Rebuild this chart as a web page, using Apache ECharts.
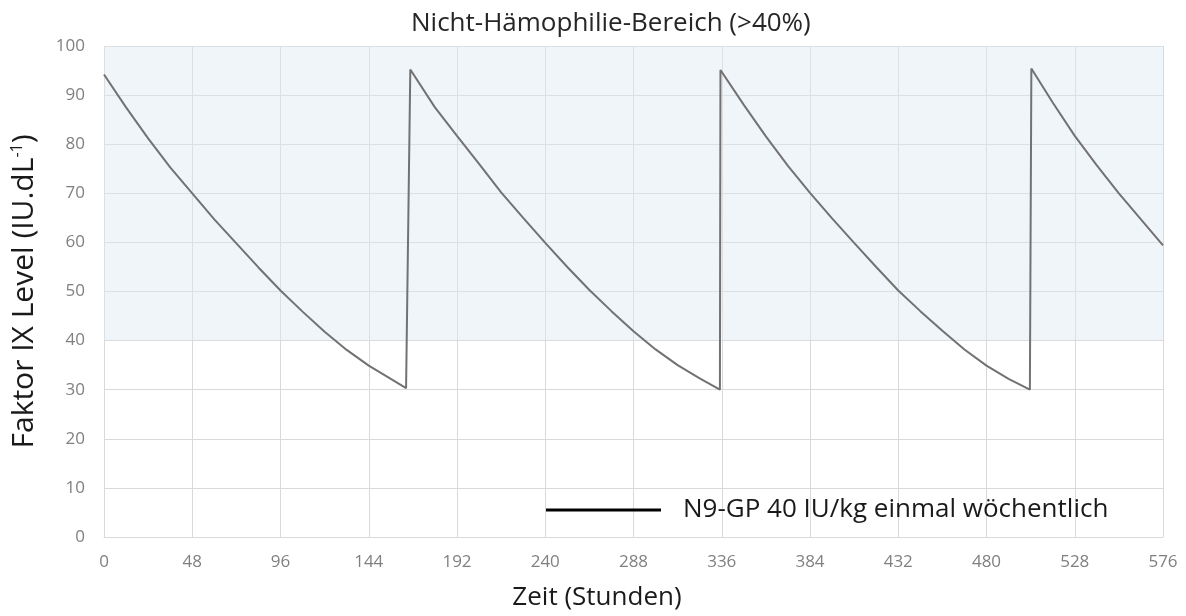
<!DOCTYPE html>
<html>
<head>
<meta charset="utf-8">
<script src="https://cdn.jsdelivr.net/npm/echarts@6/dist/echarts.min.js"></script>
<style>
html,body{margin:0;padding:0;background:#fff;}
#chart{width:1186px;height:616px;}
</style>
</head>
<body>
<div id="chart"></div>
<script>
// Time (hours) and Factor IX level (IU/dL), one dosing week per pair
var week1Hours = [0, 12, 24, 36, 48, 60, 72, 84, 96, 108, 120, 132, 144, 156, 164.3];
var week1Level = [94.2, 87.5, 81.2, 75.3, 70.0, 64.7, 59.8, 54.9, 50.2, 45.9, 41.8, 38.1, 34.9, 32.2, 30.3];
var week2Hours = [166.6, 180, 192, 204, 216, 228, 240, 252, 264, 276, 288, 300, 312, 324, 335];
var week2Level = [95.2, 87.5, 81.7, 76.0, 70.2, 65.0, 59.9, 55.0, 50.3, 46.0, 41.9, 38.2, 35.0, 32.3, 30.0];
var week3Hours = [335.3, 348, 360, 372, 384, 396, 408, 420, 432, 444, 456, 468, 480, 492, 503.6];
var week3Level = [95.1, 88.0, 81.6, 75.6, 70.1, 64.9, 59.9, 55.0, 50.2, 46.0, 42.0, 38.2, 34.9, 32.2, 30.0];
var week4Hours = [504.4, 516, 528, 540, 552, 564, 576];
var week4Level = [95.4, 88.5, 81.7, 75.7, 70.0, 64.7, 59.4];

var xTicks = [0, 48, 96, 144, 192, 240, 288, 336, 384, 432, 480, 528, 576];
var yTicks = [0, 10, 20, 30, 40, 50, 60, 70, 80, 90, 100];
var targetRange = [40, 100];
var seriesName = 'N9-GP 40 IU/kg einmal wöchentlich';
var titleText = 'Nicht-Hämophilie-Bereich (>40%)';

var timeHours = week1Hours.concat(week2Hours, week3Hours, week4Hours);
var factorLevel = week1Level.concat(week2Level, week3Level, week4Level);
var points = timeHours.map(function (t, i) { return [t, factorLevel[i]]; });
var FONT = 'Open Sans';

var chart = echarts.init(document.getElementById('chart'));
chart.setOption({
  animation: false,
  backgroundColor: '#ffffff',
  textStyle: { fontFamily: FONT },
  title: {
    text: titleText,
    left: 406,
    top: 6,
    textStyle: { fontFamily: FONT, fontSize: 26, fontWeight: 'normal', color: '#262626' }
  },
  grid: { left: 104, right: 23, top: 46, bottom: 79 },
  legend: {
    left: 541,
    top: 492,
    icon: 'rect',
    itemWidth: 115,
    itemHeight: 3,
    data: [{ name: seriesName, itemStyle: { color: '#000000' } }],
    textStyle: { fontFamily: FONT, fontSize: 26, color: '#1a1a1a', padding: [0, 0, 0, 17] }
  },
  xAxis: {
    type: 'value',
    min: xTicks[0],
    max: xTicks[xTicks.length - 1],
    interval: 48,
    name: 'Zeit (Stunden)',
    nameLocation: 'middle',
    nameGap: 48,
    nameTextStyle: { fontFamily: FONT, fontSize: 26, color: '#1a1a1a', padding: [0, 73, 0, 0] },
    axisLine: { show: true, lineStyle: { color: '#d9d9d9' } },
    axisTick: { show: false },
    axisLabel: { fontFamily: FONT, fontSize: 17, color: '#808080', margin: 17 },
    splitLine: { show: true, lineStyle: { color: '#d9d9d9', width: 1 } }
  },
  yAxis: {
    type: 'value',
    min: yTicks[0],
    max: yTicks[yTicks.length - 1],
    interval: 10,
    name: '{n|Faktor IX Level (IU.dL}{s|-1}{n|)}',
    nameLocation: 'middle',
    nameGap: 64,
    nameTextStyle: {
      rich: {
        n: { fontFamily: FONT, fontSize: 30, color: '#1a1a1a' },
        s: { fontFamily: FONT, fontSize: 16, color: '#1a1a1a', verticalAlign: 'top', padding: [0, 0, 15, 0] }
      }
    },
    axisLine: { show: false },
    axisTick: { show: false },
    axisLabel: { fontFamily: FONT, fontSize: 17, color: '#808080', margin: 19 },
    splitLine: { show: true, lineStyle: { color: '#d9d9d9', width: 1 } }
  },
  series: [{
    name: seriesName,
    type: 'line',
    data: points,
    showSymbol: false,
    lineStyle: { color: '#727272', width: 2 },
    itemStyle: { color: '#727272' },
    markArea: {
      silent: true,
      itemStyle: { color: 'rgba(222,233,245,0.45)' },
      data: [[{ yAxis: targetRange[0] }, { yAxis: targetRange[1] }]]
    }
  }]
});
</script>
</body>
</html>
